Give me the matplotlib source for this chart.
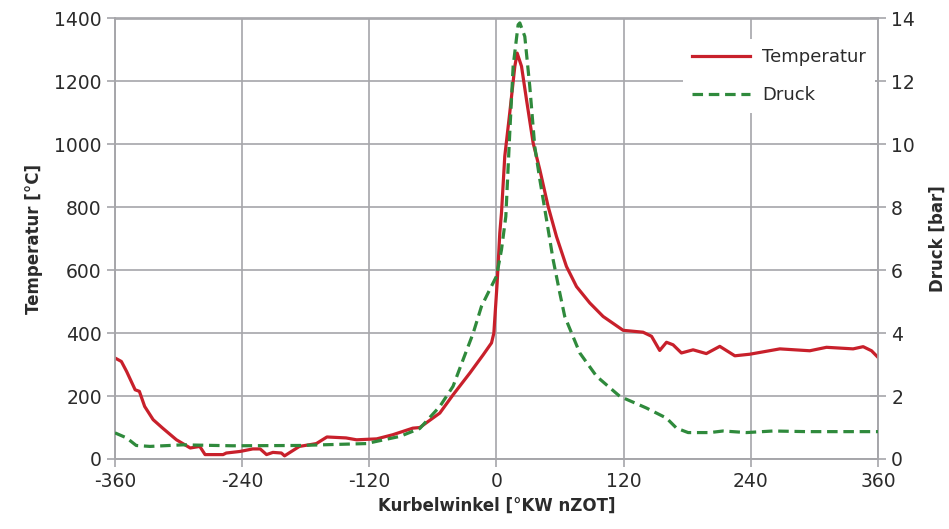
import numpy as np
import matplotlib.pyplot as plt

# --------------------
# Data
# --------------------
temp_deg = [-360, -354, -349, -341, -337, -332, -324, -315, -302, -289, -280, -275,
            -258, -255, -242, -230, -223, -217, -211, -203, -200, -186, -170, -160,
            -142, -132, -113, -98, -79, -72.4, -53.5, -41, -25.2, -12.6, -4.7, -2.5,
            0.6, 3.1, 4.7, 7.8, 12.5, 17.3, 19.5, 23.6, 28.3, 34.6, 40.9, 48.7, 56.6,
            66, 75.5, 88, 100.6, 119.5, 138.3, 146.3, 154, 160.4, 166.6, 174.5, 185.5,
            198, 210.7, 224.9, 239, 267.4, 295.6, 311.4, 336.5, 346, 353.9, 360]
temp_val = [321, 310, 278, 220, 215, 167, 125, 98, 61, 35, 40, 14,
            14, 19, 24, 32, 32, 14, 21, 19, 10, 40, 49, 70,
            67, 61, 64, 77, 98, 100, 146, 204, 273, 331, 369, 400,
            559, 718, 782, 962, 1100, 1248, 1290, 1248, 1142, 1004, 919, 803, 707,
            612, 548, 496, 453, 409, 403, 390, 345, 371, 363, 337, 347,
            335, 358, 328, 333, 350, 344, 355, 350, 357, 344, 323]

druck_deg = [-360, -349, -340, -327, -296, -249, -186, -123, -91, -72.4, -53.5, -41,
             -31.5, -22, -14.2, -7.9, 0, 4.7, 8.8, 12.5, 15.7, 20.4, 22, 26.7,
             31.4, 36.1, 40.9, 47.2, 53.4, 59.7, 64.4, 78.6, 94.4, 116.4, 141.5,
             160.4, 169.9, 180.8, 201.3, 213.8, 235.9, 261, 292.5, 324, 357, 360]
druck_val = [0.83, 0.67, 0.43, 0.40, 0.45, 0.42, 0.43, 0.49, 0.72, 0.97, 1.67, 2.31,
             3.16, 4.0, 4.85, 5.28, 5.81, 6.65, 7.71, 10.36, 12.48, 13.8, 13.86, 13.43,
             11.84, 9.93, 8.88, 7.61, 6.34, 5.28, 4.53, 3.37, 2.63, 1.99, 1.62,
             1.30, 0.98, 0.84, 0.84, 0.89, 0.84, 0.89, 0.87, 0.87, 0.87, 0.87]

x_ticks = [-360, -240, -120, 0, 120, 240, 360]

RED = '#C8202B'
GREEN = '#2F8A3C'
GRID = '#A6A6AA'
TXT = '#2B2B2B'

plt.rcParams['font.family'] = 'DejaVu Sans'
plt.rcParams['axes.unicode_minus'] = False

# --------------------
# Plot
# --------------------
fig = plt.figure(figsize=(9.49, 5.29), dpi=100)
ax = fig.add_axes([115 / 949, 1 - 459 / 529, (878 - 115) / 949, (459 - 18.5) / 529])
ax2 = ax.twinx()

l1, = ax.plot(temp_deg, temp_val, color=RED, linewidth=2.3, label='Temperatur', zorder=3)
l2, = ax2.plot(druck_deg, druck_val, color=GREEN, linewidth=2.3, dashes=(3.3, 1.8),
               label='Druck', zorder=3)

ax.set_xlim(-360, 360)
ax.set_ylim(0, 1400)
ax2.set_ylim(0, 14)
ax.set_xticks(x_ticks)
ax.set_yticks(np.arange(0, 1401, 200))
ax2.set_yticks(np.arange(0, 15, 2))

ax.grid(True, color=GRID, linewidth=1.2)
ax.set_axisbelow(True)
for a in (ax, ax2):
    for s in a.spines.values():
        s.set_color(GRID)
        s.set_linewidth(1.2)

ax.tick_params(axis='both', colors=GRID, labelcolor=TXT, labelsize=13.5,
               length=6, width=1.2, direction='out')
ax2.tick_params(axis='y', colors=GRID, labelcolor=TXT, labelsize=13.5,
                length=12, width=1.2, direction='inout')

ax.set_xlabel('Kurbelwinkel [°KW nZOT]', fontsize=12, fontweight='bold', color=TXT, labelpad=4)
ax.set_ylabel('Temperatur [°C]', fontsize=12, fontweight='bold', color=TXT, labelpad=8)
ax2.set_ylabel('Druck [bar]', fontsize=12, fontweight='bold', color=TXT, labelpad=10)

leg = ax2.legend(handles=[l1, l2], loc='upper left',
                 bbox_to_anchor=(674 / 949, 1 - 30 / 529), bbox_transform=fig.transFigure,
                 frameon=True, fontsize=13, handlelength=3.2, labelspacing=1.1,
                 borderpad=0.5, handletextpad=0.7, fancybox=False)
leg.get_frame().set_facecolor('white')
leg.get_frame().set_edgecolor('none')
leg.get_frame().set_alpha(1)
for t in leg.get_texts():
    t.set_color(TXT)

plt.savefig('out.png', dpi=100)
